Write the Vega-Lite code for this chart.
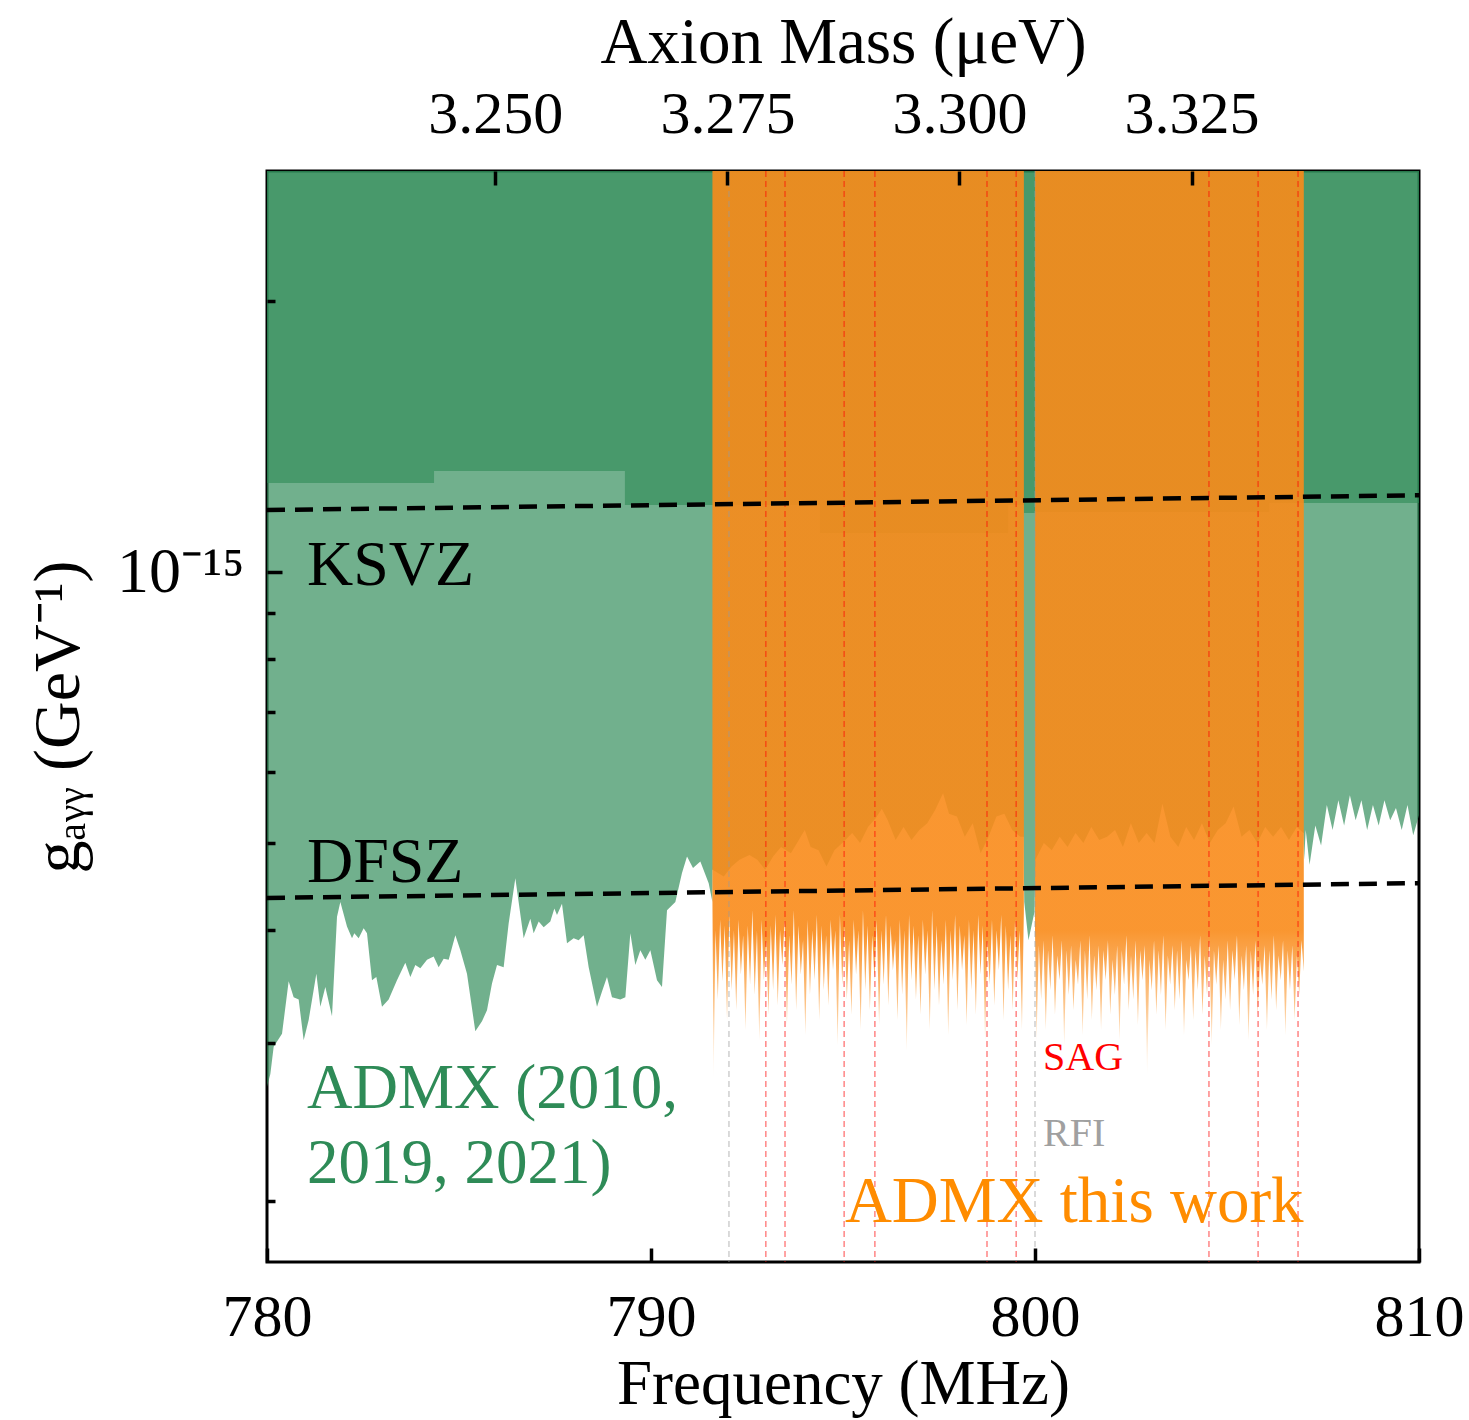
{
  "$schema": "https://vega.github.io/schema/vega-lite/v6.json",
  "width": 1152,
  "height": 1091,
  "autosize": {"type": "none"},
  "padding": {"left": 267, "top": 171, "right": 50, "bottom": 158},
  "config": {
    "view": {"stroke": "black", "strokeWidth": 3},
    "axis": {"grid": false, "domain": false, "labelFont": "Liberation Serif", "titleFont": "Liberation Serif", "titleFontWeight": "normal", "tickColor": "black", "labelColor": "black", "titleColor": "black", "tickWidth": 3, "labelFlush": false, "labelOverlap": false}
  },
  "datasets": {
    "green": [
      {"f": 780.000, "g": 0.268}, {"f": 780.087, "g": 0.277}, {"f": 780.174, "g": 0.297}, {"f": 780.391, "g": 0.307},
      {"f": 780.564, "g": 0.351}, {"f": 780.694, "g": 0.337}, {"f": 780.825, "g": 0.335}, {"f": 780.955, "g": 0.302},
      {"f": 781.085, "g": 0.318}, {"f": 781.285, "g": 0.358}, {"f": 781.389, "g": 0.329}, {"f": 781.519, "g": 0.346},
      {"f": 781.693, "g": 0.321}, {"f": 781.823, "g": 0.414}, {"f": 781.910, "g": 0.430}, {"f": 782.083, "g": 0.404},
      {"f": 782.214, "g": 0.392}, {"f": 782.274, "g": 0.397}, {"f": 782.387, "g": 0.392}, {"f": 782.517, "g": 0.402},
      {"f": 782.604, "g": 0.397}, {"f": 782.734, "g": 0.352}, {"f": 782.847, "g": 0.355}, {"f": 782.995, "g": 0.329},
      {"f": 783.168, "g": 0.335}, {"f": 783.385, "g": 0.352}, {"f": 783.602, "g": 0.368}, {"f": 783.733, "g": 0.355},
      {"f": 783.863, "g": 0.366}, {"f": 783.993, "g": 0.363}, {"f": 784.167, "g": 0.371}, {"f": 784.340, "g": 0.374},
      {"f": 784.470, "g": 0.364}, {"f": 784.601, "g": 0.372}, {"f": 784.731, "g": 0.371}, {"f": 784.905, "g": 0.395},
      {"f": 785.035, "g": 0.380}, {"f": 785.208, "g": 0.358}, {"f": 785.425, "g": 0.309}, {"f": 785.599, "g": 0.317},
      {"f": 785.729, "g": 0.326}, {"f": 785.859, "g": 0.349}, {"f": 785.990, "g": 0.366}, {"f": 786.163, "g": 0.364},
      {"f": 786.293, "g": 0.407}, {"f": 786.467, "g": 0.457}, {"f": 786.684, "g": 0.392}, {"f": 786.858, "g": 0.412},
      {"f": 786.944, "g": 0.397}, {"f": 787.075, "g": 0.409}, {"f": 787.205, "g": 0.403}, {"f": 787.378, "g": 0.409},
      {"f": 787.483, "g": 0.423}, {"f": 787.552, "g": 0.416}, {"f": 787.682, "g": 0.428}, {"f": 787.813, "g": 0.387},
      {"f": 787.986, "g": 0.392}, {"f": 788.116, "g": 0.390}, {"f": 788.247, "g": 0.395}, {"f": 788.377, "g": 0.364},
      {"f": 788.594, "g": 0.329}, {"f": 788.724, "g": 0.342}, {"f": 788.854, "g": 0.355}, {"f": 788.984, "g": 0.337},
      {"f": 789.201, "g": 0.335}, {"f": 789.332, "g": 0.337}, {"f": 789.462, "g": 0.397}, {"f": 789.592, "g": 0.366},
      {"f": 789.722, "g": 0.380}, {"f": 789.852, "g": 0.371}, {"f": 789.983, "g": 0.380}, {"f": 790.156, "g": 0.352},
      {"f": 790.286, "g": 0.346}, {"f": 790.417, "g": 0.421}, {"f": 790.634, "g": 0.430}, {"f": 790.807, "g": 0.463},
      {"f": 790.938, "g": 0.483}, {"f": 791.094, "g": 0.469}, {"f": 791.285, "g": 0.477}, {"f": 791.502, "g": 0.451},
      {"f": 791.600, "g": 0.430},
      {"f": 791.605, "g": 0.467}, {"f": 791.894, "g": 0.459}, {"f": 792.099, "g": 0.471}, {"f": 792.305, "g": 0.479},
      {"f": 792.563, "g": 0.485}, {"f": 792.769, "g": 0.479}, {"f": 792.974, "g": 0.467}, {"f": 793.180, "g": 0.483},
      {"f": 793.386, "g": 0.495}, {"f": 793.643, "g": 0.487}, {"f": 793.849, "g": 0.504}, {"f": 794.004, "g": 0.517},
      {"f": 794.158, "g": 0.495}, {"f": 794.364, "g": 0.491}, {"f": 794.570, "g": 0.471}, {"f": 794.776, "g": 0.491},
      {"f": 794.982, "g": 0.500}, {"f": 795.239, "g": 0.513}, {"f": 795.445, "g": 0.500}, {"f": 795.651, "g": 0.521},
      {"f": 795.857, "g": 0.533}, {"f": 796.011, "g": 0.546}, {"f": 796.165, "g": 0.530}, {"f": 796.371, "g": 0.504},
      {"f": 796.577, "g": 0.521}, {"f": 796.783, "g": 0.504}, {"f": 796.989, "g": 0.517}, {"f": 797.194, "g": 0.526},
      {"f": 797.400, "g": 0.544}, {"f": 797.606, "g": 0.568}, {"f": 797.761, "g": 0.539}, {"f": 797.967, "g": 0.535},
      {"f": 798.172, "g": 0.508}, {"f": 798.378, "g": 0.526}, {"f": 798.584, "g": 0.487}, {"f": 798.790, "g": 0.508},
      {"f": 798.996, "g": 0.535}, {"f": 799.202, "g": 0.539}, {"f": 799.408, "g": 0.517}, {"f": 799.613, "g": 0.508},
      {"f": 799.700, "g": 0.508},
      {"f": 799.720, "g": 0.430}, {"f": 799.830, "g": 0.390}, {"f": 799.990, "g": 0.420},
      {"f": 800.010, "g": 0.479}, {"f": 800.231, "g": 0.500}, {"f": 800.437, "g": 0.491}, {"f": 800.643, "g": 0.508},
      {"f": 800.849, "g": 0.495}, {"f": 801.055, "g": 0.513}, {"f": 801.261, "g": 0.500}, {"f": 801.466, "g": 0.521},
      {"f": 801.672, "g": 0.504}, {"f": 801.878, "g": 0.508}, {"f": 802.084, "g": 0.517}, {"f": 802.290, "g": 0.495},
      {"f": 802.496, "g": 0.526}, {"f": 802.702, "g": 0.500}, {"f": 802.907, "g": 0.513}, {"f": 803.113, "g": 0.500},
      {"f": 803.319, "g": 0.553}, {"f": 803.525, "g": 0.508}, {"f": 803.731, "g": 0.495}, {"f": 803.937, "g": 0.521},
      {"f": 804.143, "g": 0.504}, {"f": 804.348, "g": 0.526}, {"f": 804.554, "g": 0.500}, {"f": 804.760, "g": 0.517},
      {"f": 804.966, "g": 0.526}, {"f": 805.172, "g": 0.549}, {"f": 805.378, "g": 0.508}, {"f": 805.584, "g": 0.517},
      {"f": 805.790, "g": 0.500}, {"f": 805.995, "g": 0.521}, {"f": 806.201, "g": 0.508}, {"f": 806.407, "g": 0.521},
      {"f": 806.613, "g": 0.504}, {"f": 806.819, "g": 0.521}, {"f": 806.990, "g": 0.513},
      {"f": 807.010, "g": 0.479}, {"f": 807.050, "g": 0.517}, {"f": 807.150, "g": 0.473}, {"f": 807.300, "g": 0.523},
      {"f": 807.450, "g": 0.497}, {"f": 807.600, "g": 0.551}, {"f": 807.750, "g": 0.517}, {"f": 807.900, "g": 0.558},
      {"f": 808.050, "g": 0.523}, {"f": 808.200, "g": 0.565}, {"f": 808.350, "g": 0.530}, {"f": 808.500, "g": 0.558},
      {"f": 808.650, "g": 0.517}, {"f": 808.800, "g": 0.551}, {"f": 808.950, "g": 0.523}, {"f": 809.100, "g": 0.558},
      {"f": 809.250, "g": 0.530}, {"f": 809.400, "g": 0.547}, {"f": 809.550, "g": 0.517}, {"f": 809.700, "g": 0.551},
      {"f": 809.850, "g": 0.510}, {"f": 810.000, "g": 0.537}
    ],
    "darkgreen": [
      {"f": 780.0, "g": 1.256}, {"f": 784.35, "g": 1.295}, {"f": 789.32, "g": 1.187}, {"f": 794.4, "g": 1.105},
      {"f": 799.3, "g": 1.187}, {"f": 799.71, "g": 1.163}, {"f": 800.0, "g": 1.166}, {"f": 806.1, "g": 1.193},
      {"f": 810.0, "g": 1.193}
    ],
    "orange": [
      {"seg": "L", "f": 791.60, "g": 0.430}, {"seg": "L", "f": 791.63, "g": 0.273}, {"seg": "L", "f": 791.68, "g": 0.400}, {"seg": "L", "f": 791.74, "g": 0.335},
      {"seg": "L", "f": 791.80, "g": 0.411}, {"seg": "L", "f": 791.86, "g": 0.351}, {"seg": "L", "f": 791.92, "g": 0.405}, {"seg": "L", "f": 791.98, "g": 0.318},
      {"seg": "L", "f": 792.04, "g": 0.416}, {"seg": "L", "f": 792.10, "g": 0.343}, {"seg": "L", "f": 792.16, "g": 0.400}, {"seg": "L", "f": 792.22, "g": 0.326},
      {"seg": "L", "f": 792.28, "g": 0.411}, {"seg": "L", "f": 792.34, "g": 0.357}, {"seg": "L", "f": 792.40, "g": 0.395}, {"seg": "L", "f": 792.46, "g": 0.310},
      {"seg": "L", "f": 792.52, "g": 0.405}, {"seg": "L", "f": 792.58, "g": 0.348}, {"seg": "L", "f": 792.64, "g": 0.421}, {"seg": "L", "f": 792.70, "g": 0.339},
      {"seg": "L", "f": 792.76, "g": 0.400}, {"seg": "L", "f": 792.82, "g": 0.302}, {"seg": "L", "f": 792.88, "g": 0.411}, {"seg": "L", "f": 792.94, "g": 0.352},
      {"seg": "L", "f": 793.00, "g": 0.390}, {"seg": "L", "f": 793.06, "g": 0.322}, {"seg": "L", "f": 793.12, "g": 0.405}, {"seg": "L", "f": 793.18, "g": 0.343},
      {"seg": "L", "f": 793.24, "g": 0.416}, {"seg": "L", "f": 793.30, "g": 0.330}, {"seg": "L", "f": 793.36, "g": 0.400}, {"seg": "L", "f": 793.42, "g": 0.366},
      {"seg": "L", "f": 793.48, "g": 0.411}, {"seg": "L", "f": 793.54, "g": 0.314}, {"seg": "L", "f": 793.60, "g": 0.395}, {"seg": "L", "f": 793.66, "g": 0.348},
      {"seg": "L", "f": 793.72, "g": 0.421}, {"seg": "L", "f": 793.78, "g": 0.326}, {"seg": "L", "f": 793.84, "g": 0.405}, {"seg": "L", "f": 793.90, "g": 0.357},
      {"seg": "L", "f": 793.96, "g": 0.390}, {"seg": "L", "f": 794.02, "g": 0.306}, {"seg": "L", "f": 794.08, "g": 0.411}, {"seg": "L", "f": 794.14, "g": 0.339},
      {"seg": "L", "f": 794.20, "g": 0.400}, {"seg": "L", "f": 794.26, "g": 0.352}, {"seg": "L", "f": 794.32, "g": 0.416}, {"seg": "L", "f": 794.38, "g": 0.318},
      {"seg": "L", "f": 794.44, "g": 0.405}, {"seg": "L", "f": 794.50, "g": 0.343}, {"seg": "L", "f": 794.56, "g": 0.395}, {"seg": "L", "f": 794.62, "g": 0.330},
      {"seg": "L", "f": 794.68, "g": 0.411}, {"seg": "L", "f": 794.74, "g": 0.361}, {"seg": "L", "f": 794.80, "g": 0.400}, {"seg": "L", "f": 794.86, "g": 0.298},
      {"seg": "L", "f": 794.92, "g": 0.416}, {"seg": "L", "f": 794.98, "g": 0.348}, {"seg": "L", "f": 795.04, "g": 0.405}, {"seg": "L", "f": 795.10, "g": 0.335},
      {"seg": "L", "f": 795.16, "g": 0.390}, {"seg": "L", "f": 795.22, "g": 0.322}, {"seg": "L", "f": 795.28, "g": 0.411}, {"seg": "L", "f": 795.34, "g": 0.357},
      {"seg": "L", "f": 795.40, "g": 0.400}, {"seg": "L", "f": 795.46, "g": 0.310}, {"seg": "L", "f": 795.52, "g": 0.421}, {"seg": "L", "f": 795.58, "g": 0.343},
      {"seg": "L", "f": 795.64, "g": 0.405}, {"seg": "L", "f": 795.70, "g": 0.326}, {"seg": "L", "f": 795.76, "g": 0.395}, {"seg": "L", "f": 795.82, "g": 0.352},
      {"seg": "L", "f": 795.88, "g": 0.411}, {"seg": "L", "f": 795.94, "g": 0.314}, {"seg": "L", "f": 796.00, "g": 0.400}, {"seg": "L", "f": 796.06, "g": 0.348},
      {"seg": "L", "f": 796.12, "g": 0.416}, {"seg": "L", "f": 796.18, "g": 0.330}, {"seg": "L", "f": 796.24, "g": 0.405}, {"seg": "L", "f": 796.30, "g": 0.361},
      {"seg": "L", "f": 796.36, "g": 0.390}, {"seg": "L", "f": 796.42, "g": 0.318}, {"seg": "L", "f": 796.48, "g": 0.411}, {"seg": "L", "f": 796.54, "g": 0.339},
      {"seg": "L", "f": 796.60, "g": 0.400}, {"seg": "L", "f": 796.66, "g": 0.294}, {"seg": "L", "f": 796.72, "g": 0.416}, {"seg": "L", "f": 796.78, "g": 0.352},
      {"seg": "L", "f": 796.84, "g": 0.405}, {"seg": "L", "f": 796.90, "g": 0.335}, {"seg": "L", "f": 796.96, "g": 0.395}, {"seg": "L", "f": 797.02, "g": 0.322},
      {"seg": "L", "f": 797.08, "g": 0.411}, {"seg": "L", "f": 797.14, "g": 0.357}, {"seg": "L", "f": 797.20, "g": 0.400}, {"seg": "L", "f": 797.26, "g": 0.310},
      {"seg": "L", "f": 797.32, "g": 0.421}, {"seg": "L", "f": 797.38, "g": 0.343}, {"seg": "L", "f": 797.44, "g": 0.405}, {"seg": "L", "f": 797.50, "g": 0.330},
      {"seg": "L", "f": 797.56, "g": 0.390}, {"seg": "L", "f": 797.62, "g": 0.348}, {"seg": "L", "f": 797.68, "g": 0.411}, {"seg": "L", "f": 797.74, "g": 0.306},
      {"seg": "L", "f": 797.80, "g": 0.400}, {"seg": "L", "f": 797.86, "g": 0.352}, {"seg": "L", "f": 797.92, "g": 0.416}, {"seg": "L", "f": 797.98, "g": 0.326},
      {"seg": "L", "f": 798.04, "g": 0.405}, {"seg": "L", "f": 798.10, "g": 0.361}, {"seg": "L", "f": 798.16, "g": 0.395}, {"seg": "L", "f": 798.22, "g": 0.314},
      {"seg": "L", "f": 798.28, "g": 0.411}, {"seg": "L", "f": 798.34, "g": 0.343}, {"seg": "L", "f": 798.40, "g": 0.400}, {"seg": "L", "f": 798.46, "g": 0.322},
      {"seg": "L", "f": 798.52, "g": 0.416}, {"seg": "L", "f": 798.58, "g": 0.357}, {"seg": "L", "f": 798.64, "g": 0.405}, {"seg": "L", "f": 798.70, "g": 0.302},
      {"seg": "L", "f": 798.76, "g": 0.390}, {"seg": "L", "f": 798.82, "g": 0.348}, {"seg": "L", "f": 798.88, "g": 0.411}, {"seg": "L", "f": 798.94, "g": 0.330},
      {"seg": "L", "f": 799.00, "g": 0.400}, {"seg": "L", "f": 799.06, "g": 0.361}, {"seg": "L", "f": 799.12, "g": 0.416}, {"seg": "L", "f": 799.18, "g": 0.318},
      {"seg": "L", "f": 799.24, "g": 0.405}, {"seg": "L", "f": 799.30, "g": 0.343}, {"seg": "L", "f": 799.36, "g": 0.395}, {"seg": "L", "f": 799.42, "g": 0.326},
      {"seg": "L", "f": 799.48, "g": 0.411}, {"seg": "L", "f": 799.54, "g": 0.352}, {"seg": "L", "f": 799.60, "g": 0.400}, {"seg": "L", "f": 799.66, "g": 0.310},
      {"seg": "L", "f": 799.71, "g": 0.420},
      {"seg": "R", "f": 800.00, "g": 0.400}, {"seg": "R", "f": 800.04, "g": 0.302}, {"seg": "R", "f": 800.10, "g": 0.385}, {"seg": "R", "f": 800.16, "g": 0.335},
      {"seg": "R", "f": 800.22, "g": 0.390}, {"seg": "R", "f": 800.28, "g": 0.310}, {"seg": "R", "f": 800.34, "g": 0.380}, {"seg": "R", "f": 800.40, "g": 0.343},
      {"seg": "R", "f": 800.46, "g": 0.395}, {"seg": "R", "f": 800.52, "g": 0.322}, {"seg": "R", "f": 800.58, "g": 0.375}, {"seg": "R", "f": 800.64, "g": 0.352},
      {"seg": "R", "f": 800.70, "g": 0.390}, {"seg": "R", "f": 800.76, "g": 0.298}, {"seg": "R", "f": 800.82, "g": 0.380}, {"seg": "R", "f": 800.88, "g": 0.339},
      {"seg": "R", "f": 800.94, "g": 0.385}, {"seg": "R", "f": 801.00, "g": 0.326}, {"seg": "R", "f": 801.06, "g": 0.371}, {"seg": "R", "f": 801.12, "g": 0.348},
      {"seg": "R", "f": 801.18, "g": 0.390}, {"seg": "R", "f": 801.24, "g": 0.306}, {"seg": "R", "f": 801.30, "g": 0.380}, {"seg": "R", "f": 801.36, "g": 0.335},
      {"seg": "R", "f": 801.42, "g": 0.395}, {"seg": "R", "f": 801.48, "g": 0.318}, {"seg": "R", "f": 801.54, "g": 0.375}, {"seg": "R", "f": 801.60, "g": 0.343},
      {"seg": "R", "f": 801.66, "g": 0.385}, {"seg": "R", "f": 801.72, "g": 0.310}, {"seg": "R", "f": 801.78, "g": 0.380}, {"seg": "R", "f": 801.84, "g": 0.352},
      {"seg": "R", "f": 801.90, "g": 0.390}, {"seg": "R", "f": 801.96, "g": 0.322}, {"seg": "R", "f": 802.02, "g": 0.371}, {"seg": "R", "f": 802.08, "g": 0.339},
      {"seg": "R", "f": 802.14, "g": 0.385}, {"seg": "R", "f": 802.20, "g": 0.302}, {"seg": "R", "f": 802.26, "g": 0.380}, {"seg": "R", "f": 802.32, "g": 0.348},
      {"seg": "R", "f": 802.38, "g": 0.395}, {"seg": "R", "f": 802.44, "g": 0.326}, {"seg": "R", "f": 802.50, "g": 0.375}, {"seg": "R", "f": 802.56, "g": 0.335},
      {"seg": "R", "f": 802.62, "g": 0.390}, {"seg": "R", "f": 802.68, "g": 0.314}, {"seg": "R", "f": 802.74, "g": 0.380}, {"seg": "R", "f": 802.80, "g": 0.352},
      {"seg": "R", "f": 802.86, "g": 0.385}, {"seg": "R", "f": 802.92, "g": 0.276}, {"seg": "R", "f": 802.98, "g": 0.371}, {"seg": "R", "f": 803.04, "g": 0.343},
      {"seg": "R", "f": 803.10, "g": 0.390}, {"seg": "R", "f": 803.16, "g": 0.322}, {"seg": "R", "f": 803.22, "g": 0.380}, {"seg": "R", "f": 803.28, "g": 0.339},
      {"seg": "R", "f": 803.34, "g": 0.395}, {"seg": "R", "f": 803.40, "g": 0.310}, {"seg": "R", "f": 803.46, "g": 0.375}, {"seg": "R", "f": 803.52, "g": 0.348},
      {"seg": "R", "f": 803.58, "g": 0.385}, {"seg": "R", "f": 803.64, "g": 0.326}, {"seg": "R", "f": 803.70, "g": 0.380}, {"seg": "R", "f": 803.76, "g": 0.335},
      {"seg": "R", "f": 803.82, "g": 0.390}, {"seg": "R", "f": 803.88, "g": 0.306}, {"seg": "R", "f": 803.94, "g": 0.371}, {"seg": "R", "f": 804.00, "g": 0.352},
      {"seg": "R", "f": 804.06, "g": 0.385}, {"seg": "R", "f": 804.12, "g": 0.318}, {"seg": "R", "f": 804.18, "g": 0.380}, {"seg": "R", "f": 804.24, "g": 0.343},
      {"seg": "R", "f": 804.30, "g": 0.395}, {"seg": "R", "f": 804.36, "g": 0.322}, {"seg": "R", "f": 804.42, "g": 0.375}, {"seg": "R", "f": 804.48, "g": 0.339},
      {"seg": "R", "f": 804.54, "g": 0.390}, {"seg": "R", "f": 804.60, "g": 0.298}, {"seg": "R", "f": 804.66, "g": 0.380}, {"seg": "R", "f": 804.72, "g": 0.348},
      {"seg": "R", "f": 804.78, "g": 0.385}, {"seg": "R", "f": 804.84, "g": 0.310}, {"seg": "R", "f": 804.90, "g": 0.371}, {"seg": "R", "f": 804.96, "g": 0.335},
      {"seg": "R", "f": 805.02, "g": 0.390}, {"seg": "R", "f": 805.08, "g": 0.326}, {"seg": "R", "f": 805.14, "g": 0.380}, {"seg": "R", "f": 805.20, "g": 0.352},
      {"seg": "R", "f": 805.26, "g": 0.395}, {"seg": "R", "f": 805.32, "g": 0.314}, {"seg": "R", "f": 805.38, "g": 0.375}, {"seg": "R", "f": 805.44, "g": 0.343},
      {"seg": "R", "f": 805.50, "g": 0.385}, {"seg": "R", "f": 805.56, "g": 0.302}, {"seg": "R", "f": 805.62, "g": 0.380}, {"seg": "R", "f": 805.68, "g": 0.339},
      {"seg": "R", "f": 805.74, "g": 0.390}, {"seg": "R", "f": 805.80, "g": 0.322}, {"seg": "R", "f": 805.86, "g": 0.371}, {"seg": "R", "f": 805.92, "g": 0.348},
      {"seg": "R", "f": 805.98, "g": 0.385}, {"seg": "R", "f": 806.04, "g": 0.310}, {"seg": "R", "f": 806.10, "g": 0.380}, {"seg": "R", "f": 806.16, "g": 0.335},
      {"seg": "R", "f": 806.22, "g": 0.395}, {"seg": "R", "f": 806.28, "g": 0.326}, {"seg": "R", "f": 806.34, "g": 0.375}, {"seg": "R", "f": 806.40, "g": 0.352},
      {"seg": "R", "f": 806.46, "g": 0.390}, {"seg": "R", "f": 806.52, "g": 0.306}, {"seg": "R", "f": 806.58, "g": 0.380}, {"seg": "R", "f": 806.64, "g": 0.343},
      {"seg": "R", "f": 806.70, "g": 0.385}, {"seg": "R", "f": 806.76, "g": 0.318}, {"seg": "R", "f": 806.82, "g": 0.375}, {"seg": "R", "f": 806.88, "g": 0.339},
      {"seg": "R", "f": 806.94, "g": 0.390}, {"seg": "R", "f": 807.00, "g": 0.360}
    ],
    "models": [
      {"model": "KSVZ", "f": 780, "g": 1.172}, {"model": "KSVZ", "f": 810, "g": 1.217},
      {"model": "DFSZ", "f": 780, "g": 0.4345}, {"model": "DFSZ", "f": 810, "g": 0.4512}
    ],
    "vetoes": [
      {"kind": "RFI", "f": 792.03}, {"kind": "SAG", "f": 792.99}, {"kind": "SAG", "f": 793.49},
      {"kind": "SAG", "f": 795.03}, {"kind": "SAG", "f": 795.83}, {"kind": "SAG", "f": 798.75},
      {"kind": "SAG", "f": 799.51}, {"kind": "RFI", "f": 800.00}, {"kind": "SAG", "f": 804.53},
      {"kind": "SAG", "f": 805.81}, {"kind": "SAG", "f": 806.85}
    ]
  },
  "layer": [
    {
      "layer": [
        {
          "data": {"name": "green"},
          "mark": {"type": "area", "color": "#2e8b57", "opacity": 0.68},
          "encoding": {
            "x": {"field": "f", "type": "quantitative", "scale": {"domain": [780, 810], "nice": false, "zero": false},
              "axis": {"orient": "bottom", "zindex": 2, "tickColor": "black", "tickWidth": 3.5, "values": [780, 790, 800, 810], "format": "d", "tickSize": -14, "labelPadding": 40, "labelFontSize": 60, "title": "Frequency (MHz)", "titleFontSize": 63, "titlePadding": 6}},
            "y": {"field": "g", "type": "quantitative", "scale": {"type": "log", "domain": [0.1712, 2.79], "nice": false},
              "axis": {"orient": "left", "zindex": 2, "tickColor": "black", "tickWidth": 3.5, "values": [1], "labelExpr": "'10⁻¹⁵'", "tickSize": -15, "labelPadding": 38, "labelFontSize": 64, "title": "gₐᵧᵧ (GeV⁻¹)", "titleFontSize": 66, "titlePadding": 24}},
            "y2": {"datum": 2.79}
          }
        },
        {
          "data": {"name": "darkgreen"},
          "mark": {"type": "area", "color": "#2e8b57", "opacity": 0.62, "interpolate": "step-after"},
          "encoding": {
            "x": {"field": "f", "type": "quantitative"},
            "y": {"field": "g", "type": "quantitative"},
            "y2": {"datum": 2.79}
          }
        },
        {
          "data": {"name": "orange"},
          "mark": {"type": "area", "color": {"gradient": "linear", "x1": 0, "y1": 0, "x2": 0, "y2": 1,
            "stops": [
              {"offset": 0, "color": "rgba(249,139,26,0.9)"},
              {"offset": 0.84, "color": "rgba(249,139,26,0.9)"},
              {"offset": 0.92, "color": "rgba(250,148,40,0.55)"},
              {"offset": 1, "color": "rgba(252,170,80,0.05)"}
            ]}},
          "encoding": {
            "x": {"field": "f", "type": "quantitative"},
            "y": {"field": "g", "type": "quantitative"},
            "y2": {"datum": 2.79},
            "detail": {"field": "seg"}
          }
        },
        {
          "data": {"name": "vetoes"},
          "mark": {"type": "rule", "strokeDash": [6, 4], "strokeWidth": 1.6, "opacity": 0.45},
          "encoding": {
            "x": {"field": "f", "type": "quantitative"},
            "color": {"field": "kind", "type": "nominal", "scale": {"domain": ["SAG", "RFI"], "range": ["#ff0000", "#9a9a9a"]}, "legend": null}
          }
        },
        {
          "data": {"name": "models"},
          "mark": {"type": "line", "color": "black", "strokeWidth": 4.5, "strokeDash": [18, 10]},
          "encoding": {
            "x": {"field": "f", "type": "quantitative"},
            "y": {"field": "g", "type": "quantitative"},
            "detail": {"field": "model"}
          }
        },
        {
          "data": {"values": [{"f": 781.04, "g": 0.967, "label": "KSVZ"}, {"f": 781.04, "g": 0.4523, "label": "DFSZ"}]},
          "mark": {"type": "text", "align": "left", "baseline": "alphabetic", "font": "Liberation Serif", "fontSize": 64, "color": "black"},
          "encoding": {"x": {"field": "f", "type": "quantitative"}, "y": {"field": "g", "type": "quantitative"}, "text": {"field": "label"}}
        },
        {
          "data": {"values": [{"f": 781.04, "g": 0.2538, "label": "ADMX (2010,"}, {"f": 781.04, "g": 0.2096, "label": "2019, 2021)"}]},
          "mark": {"type": "text", "align": "left", "baseline": "alphabetic", "font": "Liberation Serif", "fontSize": 63, "color": "#2e8b57"},
          "encoding": {"x": {"field": "f", "type": "quantitative"}, "y": {"field": "g", "type": "quantitative"}, "text": {"field": "label"}}
        },
        {
          "data": {"values": [{"f": 795.05, "g": 0.1896, "label": "ADMX this work"}]},
          "mark": {"type": "text", "align": "left", "baseline": "alphabetic", "font": "Liberation Serif", "fontSize": 65, "color": "#ff8c00"},
          "encoding": {"x": {"field": "f", "type": "quantitative"}, "y": {"field": "g", "type": "quantitative"}, "text": {"field": "label"}}
        },
        {
          "data": {"values": [{"f": 800.21, "g": 0.2797, "label": "SAG"}]},
          "mark": {"type": "text", "align": "left", "baseline": "alphabetic", "font": "Liberation Serif", "fontSize": 40, "color": "#ff0000"},
          "encoding": {"x": {"field": "f", "type": "quantitative"}, "y": {"field": "g", "type": "quantitative"}, "text": {"field": "label"}}
        },
        {
          "data": {"values": [{"f": 800.21, "g": 0.2303, "label": "RFI"}]},
          "mark": {"type": "text", "align": "left", "baseline": "alphabetic", "font": "Liberation Serif", "fontSize": 40, "color": "#a0a0a0"},
          "encoding": {"x": {"field": "f", "type": "quantitative"}, "y": {"field": "g", "type": "quantitative"}, "text": {"field": "label"}}
        }
      ]
    },
    {
      "data": {"values": [{"v": 1}]},
      "mark": {"type": "point", "opacity": 0},
      "encoding": {
        "y": {"field": "v", "type": "quantitative", "scale": {"type": "log", "domain": [0.1712, 2.79], "nice": false},
          "axis": {"orient": "left", "zindex": 2, "tickColor": "black", "tickWidth": 3.5, "values": [0.2, 0.3, 0.4, 0.5, 0.6, 0.7, 0.8, 0.9, 2], "labels": false, "tickSize": -8, "title": null}}
      }
    },
    {
      "data": {"values": [{"m": 3.3}]},
      "mark": {"type": "point", "opacity": 0},
      "encoding": {
        "x": {"field": "m", "type": "quantitative", "scale": {"domain": [3.2254, 3.3495], "nice": false, "zero": false},
          "axis": {"orient": "top", "zindex": 2, "tickColor": "black", "tickWidth": 3.5, "values": [3.25, 3.275, 3.3, 3.325], "format": ".3f", "tickSize": -14, "labelPadding": 40, "labelFontSize": 60, "title": "Axion Mass (μeV)", "titleFontSize": 65, "titlePadding": 8}}
      }
    }
  ],
  "resolve": {"scale": {"x": "independent"}, "axis": {"y": "independent"}}
}
